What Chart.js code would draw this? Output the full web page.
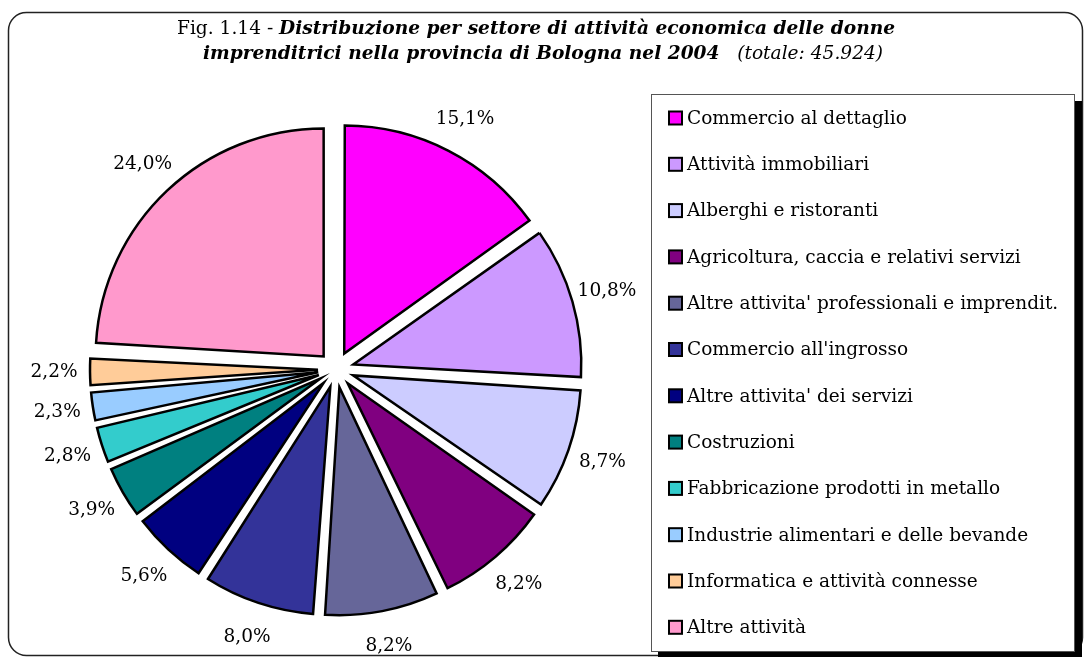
<!DOCTYPE html>
<html>
<head>
<meta charset="utf-8">
<script src="https://cdn.jsdelivr.net/npm/chart.js@4.4.0/dist/chart.umd.min.js"></script>
<style>
html, body { margin: 0; padding: 0; background: #fff; }
canvas { display: block; }
</style>
</head>
<body>
<canvas id="fig114" width="1085" height="657"></canvas>
<script>
// settori di attività (ordine orario a partire dalle ore 12)
const settori = [
    "Commercio al dettaglio",
    "Attività immobiliari",
    "Alberghi e ristoranti",
    "Agricoltura, caccia e relativi servizi",
    "Altre attivita' professionali e imprendit.",
    "Commercio all'ingrosso",
    "Altre attivita' dei servizi",
    "Costruzioni",
    "Fabbricazione prodotti in metallo",
    "Industrie alimentari e delle bevande",
    "Informatica e attività connesse",
    "Altre attività"
];
// quote percentuali
const quote = [15.1, 10.8, 8.7, 8.2, 8.2, 8.0, 5.6, 3.9, 2.8, 2.3, 2.2, 24.0];
const colori = [
    "#FF00FF", "#CC99FF", "#CCCCFF", "#800080", "#666699", "#333399",
    "#000080", "#008080", "#33CCCC", "#99CCFF", "#FFCC99", "#FF99CC"
];
// titolo: [testo, stile]
const titolo1 = [["Fig. 1.14 - ", ""], ["Distribuzione per settore di attività economica delle donne", "italic bold "]];
const titolo2 = [["imprenditrici nella provincia di Bologna nel 2004", "italic bold "], ["   (totale: 45.924)", "italic "]];

const RAGGIO = 228;
const ESPLOSO = 18;
const SERIF = "'DejaVu Serif'";

function etichetta(v) {
    return v.toFixed(1).replace(".", ",") + "%";
}

function rigaTitolo(ctx, parti, cx, y) {
    const f = "18.6px " + SERIF;
    let tot = 0;
    parti.forEach(p => { ctx.font = p[1] + f; tot += ctx.measureText(p[0]).width; });
    let x = cx - tot / 2;
    parti.forEach(p => {
        ctx.font = p[1] + f;
        ctx.fillText(p[0], x, y);
        x += ctx.measureText(p[0]).width;
    });
}

// cornice, titolo e legenda
const cornice = {
    id: "cornice",
    beforeDraw(chart) {
        const ctx = chart.ctx;
        ctx.save();
        ctx.strokeStyle = "#222";
        ctx.lineWidth = 1.5;
        ctx.beginPath();
        ctx.roundRect(8.5, 12.5, 1074, 643, 18);
        ctx.stroke();

        ctx.fillStyle = "#000";
        ctx.textAlign = "left";
        ctx.textBaseline = "alphabetic";
        rigaTitolo(ctx, titolo1, 536, 34);
        rigaTitolo(ctx, titolo2, 543, 59);
        ctx.restore();
    },
    afterDraw(chart) {
        const ctx = chart.ctx;
        const ds = chart.data.datasets[0];
        ctx.save();
        // legenda con ombra
        ctx.fillStyle = "#000";
        ctx.fillRect(658, 101, 424, 558);
        ctx.fillStyle = "#fff";
        ctx.fillRect(651, 94, 424, 558);
        ctx.strokeStyle = "#555";
        ctx.lineWidth = 1;
        ctx.strokeRect(651.5, 94.5, 423, 557);

        ctx.font = "18.5px " + SERIF;
        ctx.textBaseline = "middle";
        chart.data.labels.forEach((lab, i) => {
            const y = 118 + i * 46.3;
            ctx.fillStyle = ds.backgroundColor[i];
            ctx.fillRect(669, y - 6.5, 13, 13);
            ctx.strokeStyle = "#000";
            ctx.lineWidth = 2;
            ctx.strokeRect(669, y - 6.5, 13, 13);
            ctx.fillStyle = "#000";
            ctx.fillText(lab, 687, y + 1);
        });
        ctx.restore();
    }
};

// in v4 lo scostamento allarga anche il raggio delle fette piccole: lo annullo
const raggioFisso = {
    id: "raggioFisso",
    afterDatasetsUpdate(chart) {
        chart.getDatasetMeta(0).data.forEach(arc => {
            const fix = 1 - Math.sin(Math.min(Math.PI, arc.circumference));
            arc.outerRadius = RAGGIO - ESPLOSO * fix;
        });
    }
};

// percentuali all'esterno delle fette
const percentuali = {
    id: "percentuali",
    afterDatasetsDraw(chart) {
        const ctx = chart.ctx;
        ctx.save();
        ctx.font = "18.5px " + SERIF;
        ctx.fillStyle = "#000";
        ctx.textAlign = "center";
        ctx.textBaseline = "middle";
        chart.getDatasetMeta(0).data.forEach((arc, i) => {
            const mid = (arc.startAngle + arc.endAngle) / 2;
            const d = RAGGIO + ESPLOSO + 36;
            ctx.fillText(etichetta(quote[i]), arc.x + Math.cos(mid) * d, arc.y + Math.sin(mid) * d);
        });
        ctx.restore();
    }
};

new Chart(document.getElementById("fig114"), {
    type: "pie",
    data: {
        labels: settori,
        datasets: [{
            data: quote,
            backgroundColor: colori,
            borderColor: "#000",
            borderWidth: 2.5,
            borderJoinStyle: "miter",
            offset: ESPLOSO * 4,
            hoverOffset: ESPLOSO * 4
        }]
    },
    options: {
        responsive: false,
        animation: false,
        events: [],
        radius: RAGGIO,
        layout: { padding: { left: 80, right: 493, top: 110, bottom: 28 } },
        plugins: {
            legend: { display: false },
            title: { display: false },
            tooltip: { enabled: false }
        }
    },
    plugins: [cornice, raggioFisso, percentuali]
});
</script>
</body>
</html>
